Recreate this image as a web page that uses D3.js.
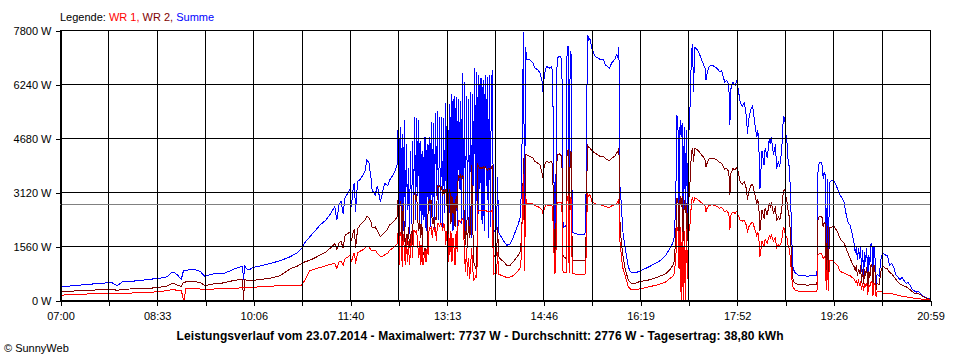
<!DOCTYPE html>
<html><head><meta charset="utf-8">
<script src="https://cdn.jsdelivr.net/npm/d3@7"></script>
<style>
body{margin:0;background:#fff}
svg{display:block}
text{font-family:"Liberation Sans",Arial,sans-serif;fill:#000}
</style>
</head><body>
<svg id="c" width="960" height="360"></svg>
<script>
// minutes after 07:00
const minutes = [
0,5,14,24,34,43,50,55,60,68,
77,87,94,98,103,106,108,111,114,116,
117,119,120,121,125,130,135,140,145,149,
154,159,164,169,174,176,177,178,180,183,
186,193,203,212,222,229,233,236,241,246,
251,256,260,263,265,267,269,271,273,275,
278,280,281,283,284,285,287,289,292,294,
296,298,300,301,304,306,309,311,313,316,
318,321,323,325,
326,327,328,329,330,331,332,333,334,335,
336,337,338,339,340,341,342,343,344,345,
346,347,348,349,350,351,352,353,354,355,
356,357,358,359,360,361,362,363,364,365,
366,367,368,369,370,371,372,373,374,375,
376,377,378,379,380,381,382,383,384,385,
386,387,388,389,390,391,392,393,394,395,
396,397,398,399,400,401,402,403,404,405,
406,407,408,409,410,411,412,413,414,415,
416,417,
418,419,421,422,423,425,428,431,434,437,
440,442,443,444,445,446,447,448,449,450,
453,456,458,461,463,465,466,467,469,472,
474,475,477,478,479,480,482,484,485,486,
488,489,490,491,492,493,494,497,501,506,
507,508,509,510,511,513,516,518,521,524,
526,528,530,532,535,537,538,539,540,541,
542,543,545,548,550,552,555,559,568,578,
584,588,591,592,593,594,595,596,597,598,
599,600,601,602,603,604,605,606,607,608,
609,610,611,612,614,616,617,620,622,623,
624,626,629,632,634,636,638,641,643,645,
646,647,649,651,653,654,656,658,660,662,
663,664,666,668,670,672,673,674,675,677,
679,680,682,684,685,686,688,690,691,693,
694,696,697,698,699,700,701,702,703,704,
705,706,707,709,712,716,721,726,730,731,
732,734,735,736,737,738,739,740,741,742,
744,746,748,750,752,754,756,758,760,762,
764,766,767,768,769,770,771,772,773,774,
775,776,777,778,779,780,781,782,783,784,
785,786,787,788,790,792,794,796,798,800,
802,804,806,808,810,812,814,816,818,820,
822,824,826,828,830,832,834,836,839
];

// WR 1 (W)
const wr1 = [
140,145,160,170,185,190,195,185,195,200,
210,220,240,250,270,290,300,290,280,260,
280,0,0,320,330,330,320,290,300,320,
320,330,340,340,350,350,350,350,350,360,
370,380,400,410,420,420,430,560,850,900,
940,990,1020,1050,1060,900,1100,1130,1000,1200,
1250,1300,1100,1330,1350,1050,1370,1400,1450,1500,
1560,1530,1450,1420,1440,1350,1250,1260,1300,1350,
1440,1500,1560,1620,
1960,1000,1950,1900,960,1900,1500,1000,1800,1100,
1700,1000,1400,1900,1200,2000,2000,1950,2000,1600,
1200,1700,1000,1600,1000,1200,1400,1100,1500,1300,
2100,2050,2100,1800,2100,2000,2100,1700,2200,2200,
2150,2200,2200,2000,2200,2150,1600,2000,900,1900,
1300,2000,1100,1800,1500,1000,2000,1400,2300,2300,
2250,2300,2350,2300,1400,800,1500,700,1200,600,
1000,1500,900,580,600,700,650,2600,2600,2580,
2600,2580,2600,2580,2600,2600,2550,2550,2550,2560,
2560,2600,
750,760,780,1400,740,720,680,650,660,700,
790,850,900,950,1300,2900,3640,850,3000,2800,
2800,2780,2720,2700,2650,2600,2450,2650,2750,2720,
2750,2700,780,800,2700,2830,2830,2800,850,800,
800,2980,3000,780,2950,2900,760,750,740,750,
780,2400,3050,3000,3050,2850,2780,2750,2750,2720,
2700,2680,2680,2720,2750,2800,2850,2900,1700,1400,
1100,900,700,385,320,289,300,320,380,450,
520,620,690,720,950,1300,2100,2000,900,2100,
0,1950,0,2000,0,2050,600,1900,2050,2300,
2900,2950,2800,2950,2920,2880,2850,2780,2720,2550,
2650,2730,2750,2720,2700,2650,2680,2550,2580,2500,
2030,2450,2550,2500,2580,2450,2300,2280,2300,2150,
1950,2100,2200,2250,2050,1850,1950,1750,1250,1700,
1550,1750,1650,1850,1800,1880,1700,1800,1500,1600,
1550,1700,2000,2100,1950,1850,1800,1600,1500,1300,
950,550,360,290,260,250,250,250,260,1300,
1330,1350,1300,1200,1250,1200,280,1150,270,1150,
1150,1120,1050,1000,850,800,780,750,720,700,
650,600,520,560,450,550,450,520,300,500,
250,480,400,500,150,450,380,520,540,120,
500,420,100,250,230,240,200,200,190,180,
180,170,150,140,120,110,100,90,80,70,
60,50,40,35,30,20,15,10,5
];

// WR 2 (W)
const wr2 = [
240,250,260,270,290,300,310,280,300,320,
330,340,360,380,400,440,480,460,420,400,
400,500,510,520,530,530,510,410,450,470,
480,500,540,570,590,600,0,600,560,550,
570,590,630,700,900,980,1050,1100,1150,1220,
1300,1380,1480,1560,1620,1450,1640,1700,1500,1870,
1930,1970,1700,2000,2020,1500,2050,2150,2250,2300,
2420,2380,2250,2100,2110,2000,1830,1900,1950,2050,
2170,2250,2310,2400,
2900,1800,2850,2700,1700,2800,2100,1500,1900,1600,
2100,1500,1800,2000,1600,3000,3100,2900,3050,2300,
2000,2300,1800,2200,1400,1300,1500,1300,1450,2600,
2900,2800,2900,2200,2400,2100,2400,2300,3300,3250,
3300,3200,3300,3000,3200,3100,3200,3200,1000,3100,
3200,2200,3000,2500,2800,2100,3000,2600,3600,3550,
3600,3500,3600,3550,2000,1600,2300,1500,2400,1800,
2000,3900,2200,1100,1000,900,1100,3900,3850,3800,
3850,3800,3850,3800,3850,3800,3750,3800,3780,3800,
3800,3900,
1200,1280,1300,2100,1250,1180,1100,1000,1000,1100,
1220,1300,1350,1400,1800,2600,4100,1250,4200,4200,
4150,4100,4000,3950,3900,3650,3500,3900,4000,3980,
4000,3900,1300,1300,3950,4200,4220,4150,1300,1250,
1200,4300,4330,1200,4300,4250,1150,1150,1130,1150,
1200,3500,4450,4400,4400,4300,4250,4200,4150,4150,
4080,4050,4020,4100,4150,4250,4300,4400,2300,1800,
1500,1250,900,578,500,482,490,530,580,680,
760,870,1000,1060,1400,2000,2950,2800,1800,3000,
2700,3000,1700,2900,2500,2800,1700,2950,3000,3700,
4300,4390,4000,4380,4350,4300,4250,4150,4050,3850,
3950,4080,4100,4070,4030,3980,3950,3780,3800,3700,
3030,3650,3800,3750,3850,3700,3400,3350,3420,3200,
2900,3100,3300,3350,3050,2800,2900,2650,2000,2600,
2350,2650,2450,2800,2700,2820,2500,2700,2300,2400,
2300,2600,3000,3150,3200,3000,2850,2600,2450,2100,
1500,900,560,480,450,440,430,440,450,2300,
2400,2420,2380,2100,2250,2200,500,2150,480,2100,
2100,2150,2050,1950,1800,1700,1650,1500,1350,1200,
1050,950,850,1000,700,900,750,1000,500,900,
450,900,700,950,350,850,650,1000,1020,300,
1000,800,280,480,450,900,960,920,900,800,
760,680,600,520,460,430,400,380,340,290,
240,200,190,180,150,100,70,40,20
];

// Summe (W)
const summe = [
370,390,420,440,470,490,500,410,520,540,
560,600,620,640,670,750,810,780,700,620,
600,840,850,860,870,880,830,680,740,760,
770,780,840,910,960,980,580,980,900,880,
940,980,1060,1130,1250,1370,1490,1650,1830,2000,
2170,2300,2450,2600,2700,2300,2750,2850,2500,2980,
3100,3230,2700,3300,3370,2550,3420,3470,3600,3700,
4050,3950,3500,3180,3030,3300,2840,3100,3370,3300,
3470,3600,3710,3900,
4950,1800,5000,2400,4800,2000,5200,2100,4500,2600,
3800,1900,4300,2200,4600,2700,5300,2300,5250,3000,
5200,2100,4600,2200,4300,2300,4700,2000,4500,2800,
4700,2100,5150,2400,5100,2000,5400,3000,5450,2300,
5300,2200,5300,2100,5250,2500,5700,3100,5600,1900,
5650,2300,5950,2000,5900,2400,5850,2100,5800,3200,
5750,2200,6550,1900,6300,2000,5900,2300,5800,2100,
6000,1800,5950,3300,6700,2000,6600,1900,6500,3200,
6400,2200,6350,2000,6500,3300,6450,1800,6500,2100,
6300,6640,
1930,2000,2050,3560,1950,1850,1700,1580,1620,1800,
2050,2200,2300,2400,3300,5500,7737,2100,7300,6950,
6950,6850,6700,6650,6550,6300,5950,6500,6750,6700,
6750,6600,2080,2100,6600,7000,7050,6950,2250,2100,
2150,7300,7320,2000,7200,7100,1950,1920,1880,1900,
2000,5800,7650,7500,7550,7250,7050,7000,6950,6950,
6780,6750,6700,6850,6950,7100,7000,7320,3300,2900,
2400,1930,1500,960,820,780,790,830,960,1120,
1280,1480,1650,1730,2200,3300,5340,4900,2700,5200,
4700,5100,2500,5000,2600,4900,2500,4800,5000,6000,
7200,7380,6000,7300,7250,7150,7080,6850,6700,6350,
6550,6750,6780,6730,6680,6600,6620,6300,6350,6200,
5060,6100,6300,6200,6350,6100,5700,5600,5700,5300,
4800,5200,5500,5600,5100,4700,4900,4400,3200,4300,
3900,4400,4100,4650,4500,4700,4200,4500,3800,4000,
3850,4300,5000,5300,5200,4800,4600,4100,3900,3400,
2500,1500,900,780,720,700,690,700,720,3700,
3950,3980,3900,3500,3700,3600,800,3500,780,3400,
3450,3470,3350,3200,3050,2950,2850,2500,2250,2150,
1900,1600,1350,1550,1150,1500,1200,1550,800,1450,
700,1400,1100,1500,500,1300,1000,1600,1640,450,
1550,1200,400,750,700,1250,1350,1300,1300,1000,
1050,950,720,680,580,650,560,480,500,420,
300,260,230,250,180,120,90,60,30
];

const yTicks = [0, 1560, 3120, 4680, 6240, 7800];
const xTickLabels = ["07:00","08:33","10:06","11:40","13:13","14:46","16:19","17:52","19:26","20:59"];
const dayMinutes = 839;      // 07:00 .. 20:59
const average = 2776;
const titleText = "Leistungsverlauf vom 23.07.2014 - Maximalwert: 7737 W - Durchschnitt: 2776 W - Tagesertrag: 38,80 kWh";

const svg = d3.select("#c");
const x = d3.scaleLinear().domain([0, dayMinutes]).range([60, 930]);
const y = d3.scaleLinear().domain([0, 7800]).range([300, 30]);

const gridMinutes = d3.range(19).map(i => i * dayMinutes / 18);

const rows = minutes.map((m, i) => ({m, wr1: wr1[i], wr2: wr2[i], summe: summe[i]}));

// data lines (Summe underneath, inverters on top)
const series = [
  {key: "summe", color: "#0000ff"},
  {key: "wr2", color: "#800000"},
  {key: "wr1", color: "#ff0000"}
];
series.forEach(s => {
  svg.append("path")
    .datum(rows)
    .attr("fill", "none")
    .attr("stroke", s.color)
    .attr("stroke-width", 1)
    .attr("shape-rendering", "crispEdges")
    .attr("d", d3.line().x(d => x(d.m)).y(d => y(d[s.key])));
});

// grid
const grid = svg.append("g").attr("stroke", "#000").attr("stroke-width", 1).attr("shape-rendering", "crispEdges");
grid.selectAll("line.v").data(gridMinutes).join("line")
  .attr("x1", d => Math.round(x(d)) + 0.5).attr("x2", d => Math.round(x(d)) + 0.5)
  .attr("y1", y(7800)).attr("y2", y(0));
grid.selectAll("line.h").data(yTicks).enter().append("line")
  .attr("x1", x(0)).attr("x2", x(dayMinutes) + 1)
  .attr("y1", d => Math.round(y(d)) + 0.5).attr("y2", d => Math.round(y(d)) + 0.5);

// average line
svg.append("line")
  .attr("x1", x(0)).attr("x2", x(dayMinutes))
  .attr("y1", Math.round(y(average)) + 0.5).attr("y2", Math.round(y(average)) + 0.5)
  .attr("stroke", "#808080").attr("stroke-width", 1).attr("shape-rendering", "crispEdges");

// axes
const yAxis = svg.append("g").attr("transform", "translate(60.5,0.5)")
  .call(d3.axisLeft(y).tickValues(yTicks).tickSize(5).tickSizeOuter(0).tickPadding(4).tickFormat(d => d + " W"));
const xAxis = svg.append("g").attr("transform", "translate(0.5,300.5)")
  .call(d3.axisBottom(x).tickValues(gridMinutes).tickSize(5).tickSizeOuter(0).tickPadding(7)
    .tickFormat((d, i) => i % 2 === 0 ? xTickLabels[i / 2] : ""));
[yAxis, xAxis].forEach(g => {
  g.attr("font-family", null).attr("font-size", null);
  g.selectAll("text").attr("font-size", 11).attr("fill", "#000");
  g.selectAll("line,path").attr("stroke", "#000").attr("shape-rendering", "crispEdges");
});

// legend
const leg = svg.append("text").attr("x", 60).attr("y", 21).attr("font-size", 11);
leg.append("tspan").text("Legende: ").attr("fill", "#000");
leg.append("tspan").text("WR 1, ").attr("fill", "#ff0000");
leg.append("tspan").text("WR 2, ").attr("fill", "#800000");
leg.append("tspan").text("Summe").attr("fill", "#0000ff");

// title
svg.append("text").attr("x", 480).attr("y", 340).attr("text-anchor", "middle")
  .attr("font-size", 12).attr("font-weight", "bold")
  .attr("textLength", 607).attr("lengthAdjust", "spacing").text(titleText);

// copyright
svg.append("text").attr("x", 4).attr("y", 352).attr("font-size", 11).text("\u00A9 SunnyWeb");
</script>
</body></html>
